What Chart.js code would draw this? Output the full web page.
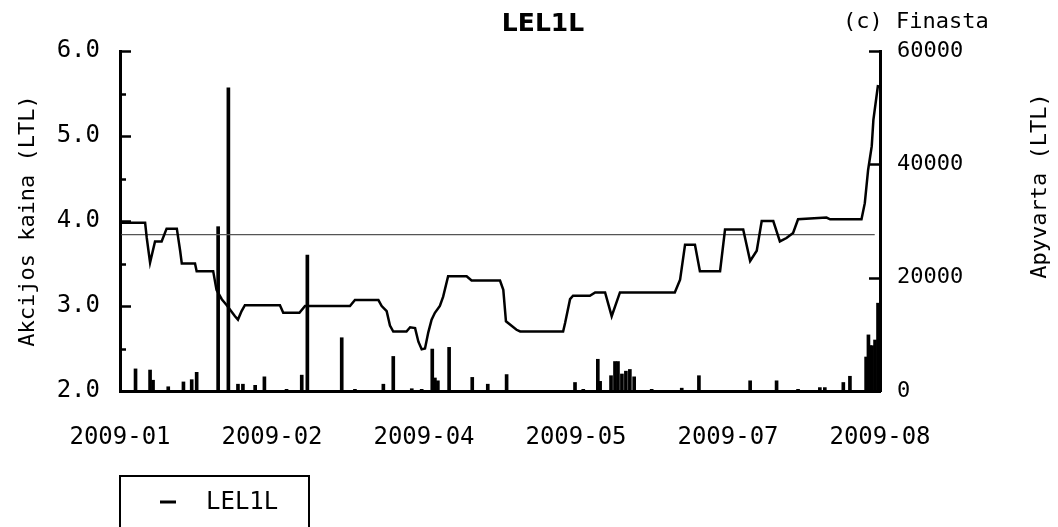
<!DOCTYPE html>
<html>
<head>
<meta charset="utf-8">
<script src="https://cdn.jsdelivr.net/npm/chart.js@4.4.1/dist/chart.umd.min.js"></script>
<style>
  html, body { margin: 0; padding: 0; background: #fff; }
  #wrap { width: 1058px; height: 527px; position: relative; }
</style>
</head>
<body>
<div id="wrap"><canvas id="c"></canvas></div>
<script>
// ---- data (x = days since 2009-01-01) ----
const chartTitle = 'LEL1L';
const copyrightText = '(c) Finasta';
const leftAxisTitle = 'Akcijos kaina (LTL)';
const rightAxisTitle = 'Apyvarta (LTL)';
const xTickLabels = ['2009-01', '2009-02', '2009-04', '2009-05', '2009-07', '2009-08'];

const priceDays = [0.6, 7.6, 8.1, 9.1, 10.6, 12.6, 14.1, 17.2, 18.2, 18.7, 22.7, 23.2, 28.2, 29.2, 30.8, 32.3,
  34.8, 35.7, 36.8, 37.8, 48.4, 49.4, 54.3, 56.0, 69.6, 71.1, 78.2, 79.2, 80.7, 81.7, 82.7, 86.7,
  87.8, 89.3, 90.3, 91.3, 92.3, 93.3, 94.3, 95.3, 96.8, 97.8, 99.3, 104.9, 106.4, 115.0, 116.0, 116.8,
  120.0, 121.1, 134.1, 134.7, 136.2, 137.1, 142.2, 143.8, 146.8, 148.8, 151.3, 167.9, 169.5, 171.0,
  174.0, 175.5, 181.6, 183.1, 188.6, 190.7, 192.7, 194.2, 197.7, 199.7, 201.7, 203.7, 205.2, 213.8,
  214.9, 224.4, 225.4, 226.4, 227.5, 228.0, 229.4];
const priceValues = [3.98, 3.98, 3.80, 3.51, 3.76, 3.76, 3.91, 3.91, 3.65, 3.50, 3.50, 3.41, 3.41, 3.19, 3.08, 3.01,
  2.88, 2.84, 2.94, 3.01, 3.01, 2.92, 2.92, 3.00, 3.00, 3.07, 3.07, 3.00, 2.94, 2.77, 2.70, 2.70,
  2.75, 2.74, 2.58, 2.49, 2.50, 2.69, 2.84, 2.92, 3.00, 3.11, 3.35, 3.35, 3.30, 3.30, 3.19, 2.82,
  2.72, 2.70, 2.70, 2.80, 3.08, 3.12, 3.12, 3.16, 3.16, 2.88, 3.16, 3.16, 3.31, 3.72,
  3.72, 3.41, 3.41, 3.90, 3.90, 3.53, 3.65, 4.00, 4.00, 3.76, 3.80, 3.86, 4.02, 4.04,
  4.02, 4.02, 4.21, 4.60, 4.88, 5.19, 5.60];

const avgPrice = 3.84;
const avgDays = [0.4, 228.4];

const volumeDays = [4.7, 9.1, 10.0, 14.6, 19.2, 21.7, 23.2, 29.7, 32.8, 35.7, 37.2, 40.9, 43.7, 50.4, 55.0, 56.7,
  67.1, 71.1, 79.7, 82.7, 88.3, 91.3, 94.5, 95.3, 96.2, 99.6, 106.6, 111.3, 117.0,
  137.7, 140.2, 144.6, 145.3, 148.6, 149.8, 150.7, 151.9, 153.1, 154.3, 155.6, 160.9, 170.0, 175.2,
  190.7, 198.7, 205.2, 211.8, 213.3, 218.9, 220.9, 225.8, 226.5, 227.0, 227.6, 228.5, 229.4];
const volumeValues = [3900, 3700, 1900, 750, 1600, 2000, 3300, 29000, 53500, 1200, 1200, 1000, 2500, 300, 2800, 24000,
  9400, 300, 1200, 6100, 400, 300, 7400, 2300, 1800, 7700, 2400, 1200, 2900,
  1500, 300, 5600, 1700, 2700, 5200, 5200, 3000, 3500, 3800, 2500, 300, 500, 2700,
  1800, 1800, 300, 600, 600, 1500, 2600, 6000, 9900, 8000, 8000, 9000, 15500];

// ---- build ----
const pricePts = priceDays.map((d, i) => ({ x: d, y: priceValues[i] }));
const volPts = volumeDays.map((d, i) => ({ x: d, y: volumeValues[i] }));
const avgPts = avgDays.map(d => ({ x: d, y: avgPrice }));

const MONO = '"DejaVu Sans Mono", "Liberation Mono", monospace';

const decorPlugin = {
  id: 'decor',
  afterDraw(chart) {
    const ctx = chart.ctx;
    const ca = chart.chartArea;
    const yS = chart.scales.y, y1S = chart.scales.y1;
    ctx.save();
    ctx.strokeStyle = '#000';
    ctx.fillStyle = '#000';
    // inward ticks on left axis
    ctx.lineWidth = 2.5;
    for (let v = yS.min; v <= yS.max + 1e-9; v += 0.5) {
      const py = Math.round(yS.getPixelForValue(v)) + 0.5;
      const major = Math.abs(v - Math.round(v)) < 1e-6;
      const len = major ? 11 : 6;
      ctx.beginPath();
      ctx.moveTo(ca.left, py);
      ctx.lineTo(ca.left + len, py);
      ctx.stroke();
    }
    // inward ticks on right axis
    y1S.ticks.forEach(t => {
      const py = Math.round(y1S.getPixelForValue(t.value)) + 0.5;
      ctx.beginPath();
      ctx.moveTo(ca.right, py);
      ctx.lineTo(ca.right - 11, py);
      ctx.stroke();
    });
    // title
    ctx.textBaseline = 'middle';
    ctx.textAlign = 'center';
    ctx.font = 'bold 25px "DejaVu Sans"';
    ctx.fillText(chartTitle, 543, 24);
    // copyright
    ctx.textAlign = 'left';
    ctx.font = '22px ' + MONO;
    ctx.fillText(copyrightText, 843, 22);
    // axis titles
    ctx.save();
    ctx.translate(28, (ca.top + ca.bottom) / 2);
    ctx.rotate(-Math.PI / 2);
    ctx.textAlign = 'center';
    ctx.font = '22px ' + MONO;
    ctx.fillText(leftAxisTitle, 0, 0);
    ctx.restore();
    ctx.save();
    ctx.translate(1040, 186);
    ctx.rotate(-Math.PI / 2);
    ctx.textAlign = 'center';
    ctx.font = '22px ' + MONO;
    ctx.fillText(rightAxisTitle, 0, 0);
    ctx.restore();
    // legend box
    ctx.lineWidth = 2;
    ctx.strokeRect(120, 476, 189, 70);
    ctx.lineWidth = 3;
    ctx.beginPath();
    ctx.moveTo(160, 502);
    ctx.lineTo(176, 502);
    ctx.stroke();
    ctx.textAlign = 'left';
    ctx.font = '24px ' + MONO;
    ctx.fillText(chart.data.datasets[0].label, 206, 503);
    ctx.restore();
  }
};

new Chart(document.getElementById('c'), {
  type: 'line',
  data: {
    datasets: [
      {
        type: 'line', label: chartTitle, data: pricePts, yAxisID: 'y',
        borderColor: '#000', borderWidth: 2.5, pointRadius: 0, tension: 0, order: 0
      },
      {
        type: 'line', label: 'avg', data: avgPts, yAxisID: 'y',
        borderColor: '#555', borderWidth: 1.2, pointRadius: 0, order: 1
      },
      {
        type: 'bar', label: 'Apyvarta', data: volPts, yAxisID: 'y1',
        backgroundColor: '#000', barThickness: 3, order: 2
      }
    ]
  },
  options: {
    responsive: true,
    maintainAspectRatio: false,
    animation: false,
    devicePixelRatio: 1,
    layout: { padding: { top: 51, left: 0, right: 0, bottom: 0 } },
    plugins: { legend: { display: false }, title: { display: false }, tooltip: { enabled: false } },
    scales: {
      x: {
        type: 'linear', min: 0, max: 230, offset: false,
        grid: { display: false, drawTicks: false },
        border: { display: true, color: '#000', width: 3 },
        ticks: {
          stepSize: 46, autoSkip: false, maxRotation: 0, padding: 32,
          color: '#000', font: { family: MONO, size: 24 },
          callback: (v, i) => xTickLabels[i]
        },
        afterFit: s => { s.height = 136; }
      },
      y: {
        type: 'linear', position: 'left', min: 2, max: 6,
        grid: { display: false, drawTicks: false },
        border: { display: true, color: '#000', width: 3 },
        ticks: {
          stepSize: 1, padding: 20, color: '#000', font: { family: MONO, size: 24 },
          callback: v => Number(v).toFixed(1)
        },
        afterFit: s => { s.width = 120; }
      },
      y1: {
        type: 'linear', position: 'right', min: 0, max: 60000,
        grid: { display: false, drawTicks: false },
        border: { display: true, color: '#000', width: 3 },
        ticks: {
          stepSize: 20000, padding: 17, color: '#000', font: { family: MONO, size: 22 },
          callback: v => String(v)
        },
        afterFit: s => { s.width = 178; }
      }
    }
  },
  plugins: [decorPlugin]
});
</script>
</body>
</html>
